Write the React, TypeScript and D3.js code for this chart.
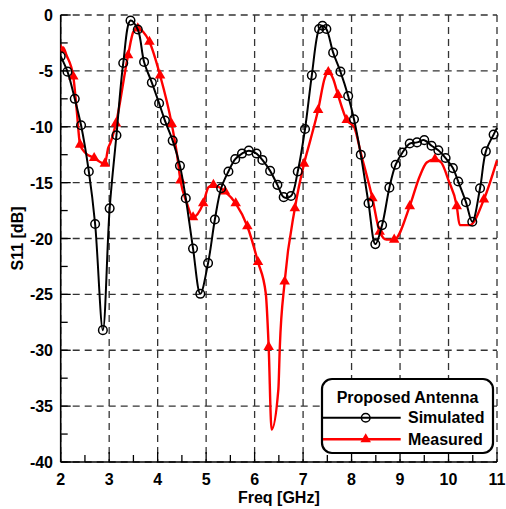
import React from "react";
import * as d3 from "d3";

const simFreq = [2.0, 2.14, 2.29, 2.42, 2.58, 2.71, 2.87, 3.01, 3.15, 3.29, 3.44, 3.59, 3.72, 3.88, 4.03, 4.15, 4.31, 4.46, 4.58, 4.73, 4.88, 5.04, 5.18, 5.31, 5.46, 5.6, 5.74, 5.88, 6.04, 6.16, 6.32, 6.47, 6.6, 6.75, 6.89, 7.04, 7.18, 7.33, 7.4, 7.48, 7.62, 7.77, 7.93, 8.05, 8.19, 8.35, 8.49, 8.63, 8.78, 8.91, 9.05, 9.2, 9.35, 9.5, 9.65, 9.79, 9.94, 10.09, 10.2, 10.36, 10.49, 10.65, 10.77, 10.93, 11.0];
const simS11 = [-3.7, -5.07, -7.5, -9.87, -14.0, -18.7, -28.2, -17.3, -10.76, -4.3, -0.5, -1.3, -4.2, -6.05, -7.9, -9.45, -11.24, -13.5, -16.4, -20.9, -24.95, -22.2, -18.3, -15.5, -14.0, -12.9, -12.4, -12.14, -12.4, -12.97, -13.95, -15.2, -16.3, -16.2, -14.0, -10.2, -5.4, -1.25, -0.96, -1.25, -3.37, -5.07, -7.25, -9.33, -12.5, -16.85, -20.5, -18.8, -15.45, -13.4, -12.3, -11.5, -11.4, -11.2, -11.7, -12.1, -12.8, -13.7, -14.9, -16.75, -18.5, -15.5, -12.2, -10.7, -10.1];
const simMarker = simFreq.map((f) => f < 10.99);

const measFreq = [2.0, 2.05, 2.12, 2.26, 2.33, 2.4, 2.5, 2.69, 2.91, 2.98, 3.02, 3.14, 3.39, 3.5, 3.59, 3.7, 3.83, 4.05, 4.29, 4.4, 4.47, 4.6, 4.73, 4.94, 5.05, 5.15, 5.39, 5.61, 5.85, 6.07, 6.23, 6.29, 6.35, 6.49, 6.52, 6.62, 6.83, 7.02, 7.15, 7.31, 7.45, 7.52, 7.62, 7.72, 7.9, 8.05, 8.2, 8.43, 8.58, 8.72, 8.88, 9.2, 9.4, 9.55, 9.72, 9.85, 10.0, 10.17, 10.23, 10.44, 10.73, 11.0];
const measS11 = [-3.1, -2.9, -3.6, -5.5, -8.5, -11.6, -12.3, -12.8, -13.3, -11.9, -11.5, -9.7, -3.6, -1.5, -1.2, -1.5, -2.4, -5.4, -9.75, -12.5, -14.8, -16.8, -18.1, -16.85, -15.4, -15.2, -15.8, -16.85, -18.9, -22.1, -24.9, -29.7, -37.1, -33.5, -29.7, -23.85, -17.3, -13.3, -11.2, -8.5, -5.6, -5.1, -5.7, -7.15, -9.4, -10.0, -12.5, -16.4, -19.4, -20.1, -20.1, -17.1, -14.5, -13.2, -12.9, -13.2, -14.8, -17.1, -18.8, -18.8, -16.5, -13.0];
const measMarkerFreq = [2.0, 2.26, 2.4, 2.69, 2.91, 3.14, 3.39, 3.59, 3.83, 4.05, 4.29, 4.47, 4.73, 4.94, 5.15, 5.39, 5.61, 5.85, 6.07, 6.29, 6.62, 6.83, 7.02, 7.31, 7.52, 7.72, 7.9, 8.43, 8.58, 8.88, 9.2, 9.72, 10.17, 10.73];

const xTicks = [2, 3, 4, 5, 6, 7, 8, 9, 10, 11];
const yTicks = [0, -5, -10, -15, -20, -25, -30, -35, -40];
const xMinor = [2.5, 3.5, 4.5, 5.5, 6.5, 7.5, 8.5, 9.5, 10.5];
const yMinor = [-2.5, -7.5, -12.5, -17.5, -22.5, -27.5, -32.5, -37.5];

const legendTitle = "Proposed Antenna";
const seriesNames = ["Simulated", "Measured"];
const xTitle = "Freq [GHz]";
const yTitle = "S11 [dB]";

const W = 506, H = 509;
const L = 60.7, R = 497, T = 15, B = 462;
const FONT = "'Liberation Sans', Arial, sans-serif";

export default function App() {
  const x = d3.scaleLinear().domain([2, 11]).range([L, R]);
  const y = d3.scaleLinear().domain([-40, 0]).range([B, T]);

  const simPts: [number, number][] = simFreq.map((f, i) => [f, simS11[i]]);
  const measPts: [number, number][] = measFreq.map((f, i) => [f, measS11[i]]);

  const simLine = d3.line<[number, number]>().x((d) => x(d[0])).y((d) => y(d[1])).curve(d3.curveCatmullRom.alpha(0.5));
  const measLine = d3.line<[number, number]>().x((d) => x(d[0])).y((d) => y(d[1])).curve(d3.curveMonotoneX);

  const tri = d3.symbol().type(d3.symbolTriangle).size(48)();
  const measMarkers = measMarkerFreq.map((f) => {
    const i = measFreq.indexOf(f);
    return [f, measS11[i]] as [number, number];
  });

  const gridColor = "#333";
  const dash = "7,5";

  // legend
  const lgX = 322, lgY = 379, lgW = 171, lgH = 74;

  return (
    <svg width={W} height={H} style={{ position: "absolute", left: 0, top: 0, background: "#fff" }} fontFamily={FONT}>
      <rect x={0} y={0} width={W} height={H} fill="#fff" />
      <defs>
        <clipPath id="plotclip">
          <rect x={L} y={T - 6} width={R - L + 6} height={B - T + 6} />
        </clipPath>
      </defs>
      {/* grid */}
      {xTicks.map((t) => (
        <line key={"gx" + t} x1={x(t)} x2={x(t)} y1={T} y2={B} stroke={gridColor} strokeWidth={1.3} strokeDasharray={dash} />
      ))}
      {yTicks.map((t) => (
        <line key={"gy" + t} x1={L} x2={R} y1={y(t)} y2={y(t)} stroke={gridColor} strokeWidth={1.3} strokeDasharray={dash} />
      ))}
      {/* ticks */}
      {xTicks.map((t) => (
        <line key={"tx" + t} x1={x(t)} x2={x(t)} y1={B} y2={B - 10} stroke="#000" strokeWidth={1.3} />
      ))}
      {xMinor.map((t) => (
        <line key={"mx" + t} x1={x(t)} x2={x(t)} y1={B} y2={B - 7} stroke="#000" strokeWidth={1.3} />
      ))}
      {yTicks.map((t) => (
        <line key={"ty" + t} x1={L} x2={L + 10} y1={y(t)} y2={y(t)} stroke="#000" strokeWidth={1.3} />
      ))}
      {yMinor.map((t) => (
        <line key={"my" + t} x1={L} x2={L + 7} y1={y(t)} y2={y(t)} stroke="#000" strokeWidth={1.3} />
      ))}
      {/* axes */}
      <line x1={L} x2={L} y1={T} y2={B} stroke="#000" strokeWidth={1.6} />
      <line x1={L} x2={R} y1={B} y2={B} stroke="#000" strokeWidth={1.6} />
      {/* tick labels */}
      {xTicks.map((t) => (
        <text key={"lx" + t} x={x(t)} y={485} textAnchor="middle" fontSize={16} fontWeight="bold">{t}</text>
      ))}
      {yTicks.map((t) => (
        <text key={"ly" + t} x={53} y={y(t) + 6} textAnchor="end" fontSize={16} fontWeight="bold">{t}</text>
      ))}
      <text x={(L + R) / 2} y={503} textAnchor="middle" fontSize={16} fontWeight="bold">{xTitle}</text>
      <text transform={`translate(23,${(T + B) / 2}) rotate(-90)`} textAnchor="middle" fontSize={16} fontWeight="bold">{yTitle}</text>

      <g clipPath="url(#plotclip)">
        <path d={measLine(measPts) || ""} fill="none" stroke="#ff0000" strokeWidth={2.4} />
        {measMarkers.map((d, i) => (
          <path key={"mm" + i} d={tri || ""} transform={`translate(${x(d[0])},${y(d[1])})`} fill="#ff0000" />
        ))}
        <path d={simLine(simPts) || ""} fill="none" stroke="#000" strokeWidth={2} />
        {simPts.map((d, i) =>
          simMarker[i] ? (
            <circle key={"sm" + i} cx={x(d[0])} cy={y(d[1])} r={4.3} fill="none" stroke="#000" strokeWidth={1.5} />
          ) : null
        )}
      </g>

      {/* legend */}
      <rect x={lgX} y={lgY} width={lgW} height={lgH} rx={10} ry={10} fill="#fff" stroke="#000" strokeWidth={2.2} />
      <text x={407.5} y={402.5} textAnchor="middle" fontSize={16} fontWeight="bold">{legendTitle}</text>
      <line x1={lgX + 1} x2={400.7} y1={417.7} y2={417.7} stroke="#000" strokeWidth={2} />
      <circle cx={365.7} cy={417.7} r={4.3} fill="none" stroke="#000" strokeWidth={1.5} />
      <text x={408} y={423} fontSize={16} fontWeight="bold">{seriesNames[0]}</text>
      <line x1={lgX + 1} x2={400.7} y1={439.3} y2={439.3} stroke="#ff0000" strokeWidth={2.4} />
      <path d={tri || ""} transform={`translate(365.7,439.3)`} fill="#ff0000" />
      <text x={408} y={445} fontSize={16} fontWeight="bold">{seriesNames[1]}</text>
    </svg>
  );
}
